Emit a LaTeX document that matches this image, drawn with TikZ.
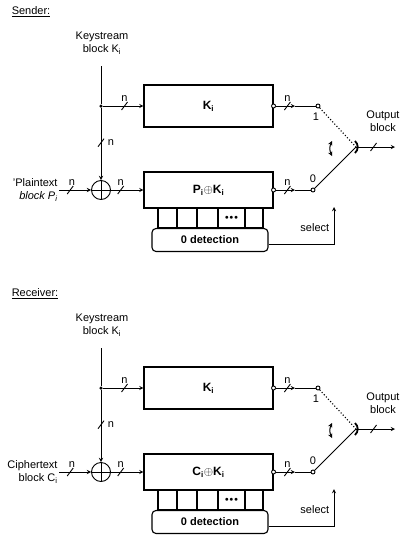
\documentclass[tikz,border=0pt]{standalone}
\usepackage{fontspec}
\setmainfont{Liberation Sans}
\usepackage{tikz}
\usetikzlibrary{positioning}

\begin{document}
\begin{tikzpicture}[x=1pt, y=-1pt, line width=0.9pt, >=stealth,
    font=\fontsize{11}{13}\selectfont,
    blk/.style={draw, line width=1.1pt, minimum width=129pt, inner sep=0pt, font=\fontsize{12}{14}\selectfont\bfseries},
    detbox/.style={draw, line width=1.1pt, rounded corners=4pt, minimum width=116pt, minimum height=23pt, font=\fontsize{11}{13}\selectfont\bfseries},
    xorg/.style={circle, draw, minimum size=19pt, inner sep=0pt,
      path picture={\draw (path picture bounding box.north) -- (path picture bounding box.south)
                          (path picture bounding box.west) -- (path picture bounding box.east);}},
    jack/.style={circle, draw, fill=white, inner sep=0pt, minimum size=4pt},
    jdot/.style={circle, fill, inner sep=0pt, minimum size=3.5pt}]
  \useasboundingbox (0,0) rectangle (403,544);
  \foreach \s/\yo/\ttl/\inp/\reg in {s/0/Sender:/{'Plaintext\\\textit{block P\textsubscript{i}}}/P,
                                      r/282/Receiver:/{Ciphertext\\block C\textsubscript{i}}/C} {
  \begin{scope}[shift={(0,\yo)}]
    % title and keystream input
    \node[anchor=west] (t\s) at (8,12) {\underline{\ttl}};
    \node[align=center] (ks\s) at (102,43) {Keystream\\block K\textsubscript{i}};
    \coordinate (kin\s) at (101,66);
    \node[jdot] (br\s) at (101,106) {};
    \node[xorg] (x\s) at (101,190) {};
    \node[align=right, anchor=east, inner sep=1pt] (in\s) at (59,190) {\inp};
    % key register and xor register
    \node[blk, minimum height=42pt] (kb\s) at (208.5,106) {K\textsubscript{i}};
    \node[blk, minimum height=36pt] (pk\s) at (208.5,190) {\reg\textsubscript{i}$\oplus$K\textsubscript{i}};
    \foreach \a/\b in {158/177, 177/197, 197/218, 218/245, 245/263}
      \draw[line width=1.1pt] (\a,208) rectangle (\b,228);
    \node[font=\scriptsize] (dots\s) at (231.5,218) {$\bullet\!\bullet\!\bullet$};
    \node[detbox] (det\s) at (210,240) {0 detection};
    % inputs
    \draw (kin\s) -- (br\s);
    \draw[->] (br\s) -- node[pos=.48, right=3pt] {n} coordinate[pos=.48] (b2\s) (x\s.north);
    \draw (b2\s) +(-3,4) -- +(3,-4);
    \draw[->] (br\s) -- node[pos=.53, above=1pt] {n} coordinate[pos=.53] (b3\s) (kb\s.west);
    \draw (b3\s) +(-3,4) -- +(3,-4);
    \draw[->] (in\s.east) -- node[pos=.4, above=1pt] {n} coordinate[pos=.35] (b1\s) (x\s.west);
    \draw (b1\s) +(-3,4) -- +(3,-4);
    \draw[->] (x\s.east) -- node[pos=.3, above=1pt] {n} coordinate[pos=.3] (b4\s) (pk\s.west);
    \draw (b4\s) +(-3,4) -- +(3,-4);
    % outputs and switch
    \node[jack] (ko\s) at (kb\s.east) {};
    \node[jack] (po\s) at (pk\s.east) {};
    \coordinate (m1\s) at (295,106);
    \coordinate (m0\s) at (295,190);
    \node[jack] (o1\s) at (318,106) {};
    \node[jack] (o0\s) at (313,190) {};
    \node[below=1pt of o1\s, xshift=-2pt] (l1\s) {1};
    \node[above=1pt of o0\s] (l0\s) {0};
    \draw[->] (ko\s) -- node[pos=.6, above=1pt] {n} coordinate[pos=.6] (b5\s) (m1\s);
    \draw (b5\s) +(-3,4) -- +(3,-4);
    \draw (m1\s) -- (o1\s);
    \draw[->] (po\s) -- node[pos=.6, above=1pt] {n} coordinate[pos=.6] (b6\s) (m0\s);
    \draw (b6\s) +(-3,4) -- +(3,-4);
    \draw (m0\s) -- (o0\s);
    \coordinate (pv\s) at (356,147);
    \draw[dotted, line width=1.1pt] (o1\s) -- (pv\s);
    \draw (o0\s) -- (pv\s);
    \draw[line width=1.8pt] (pv\s) ++(-1,-6) to[bend left=50] ++(0,12);
    \draw[<->, line width=1pt] (332,141) to[bend right=25] (332,156);
    \coordinate (out\s) at (395,147);
    \draw[->] (pv\s) -- coordinate[pos=.45] (b7\s) (out\s);
    \draw (b7\s) +(-3,4) -- +(3,-4);
    \node[align=center] (ob\s) at (383,121) {Output\\block};
    % select line
    \coordinate (sel\s) at (334,207);
    \draw[->] ([yshift=-4pt]det\s.east) -| node[pos=.72, left=1pt] {select} (sel\s);
  \end{scope}}
\end{tikzpicture}
\end{document}
